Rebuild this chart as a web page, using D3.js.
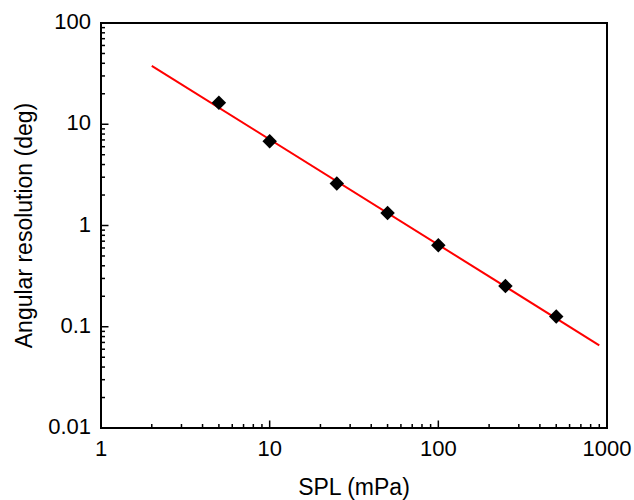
<!DOCTYPE html>
<html>
<head>
<meta charset="utf-8">
<script src="https://cdn.jsdelivr.net/npm/d3@7"></script>
<style>
  html, body { margin: 0; padding: 0; background: #fff; }
  svg { display: block; }
  text { font-family: "Liberation Sans", Arial, sans-serif; fill: #000; }
</style>
</head>
<body>
<svg id="chart" width="634" height="500"></svg>
<script>
// Data
const splValues = [5, 10, 25, 50, 100, 250, 500];
const resolutionValues = [16.3, 6.8, 2.6, 1.33, 0.637, 0.252, 0.126];
const fitX = [2, 900];
const fitY = [37.8, 0.0656];
const xTickLabels = [1, 10, 100, 1000];
const yTickLabels = [0.01, 0.1, 1, 10, 100];
const xTitle = "SPL (mPa)";
const yTitle = "Angular resolution (deg)";

const W = 634, H = 500;
const m = { left: 101, right: 27, top: 23, bottom: 72 };
const svg = d3.select("#chart");

const x = d3.scaleLog().domain([1, 1000]).range([m.left, W - m.right]);
const y = d3.scaleLog().domain([0.01, 100]).range([H - m.bottom, m.top]);

const x0 = m.left, x1 = W - m.right, y0 = H - m.bottom, y1 = m.top;

// minor ticks
function logTicks(lo, hi) {
  const out = [];
  for (let e = Math.log10(lo); e < Math.log10(hi); e++) {
    const b = Math.pow(10, e);
    for (let k = 2; k <= 9; k++) out.push(+(b * k).toPrecision(3));
  }
  return out;
}

const g = svg.append("g");

// X axis ticks (inward)
g.selectAll(".xmin").data(logTicks(1, 1000)).enter().append("line")
  .attr("x1", d => x(d)).attr("x2", d => x(d))
  .attr("y1", y0).attr("y2", y0 - 4)
  .attr("stroke", "#000").attr("stroke-width", 1.5);
g.selectAll(".xmaj").data(xTickLabels).enter().append("line")
  .attr("x1", d => x(d)).attr("x2", d => x(d))
  .attr("y1", y0).attr("y2", y0 - 7.5)
  .attr("stroke", "#000").attr("stroke-width", 1.5);
g.selectAll(".xlab").data(xTickLabels).enter().append("text")
  .attr("x", d => x(d)).attr("y", y0 + 28)
  .attr("text-anchor", "middle").attr("font-size", 22)
  .text(d => String(d));

// Y axis ticks
g.selectAll(".ymin").data(logTicks(0.01, 100)).enter().append("line")
  .attr("x1", x0).attr("x2", x0 + 4)
  .attr("y1", d => y(d)).attr("y2", d => y(d))
  .attr("stroke", "#000").attr("stroke-width", 1.5);
g.selectAll(".ymaj").data(yTickLabels).enter().append("line")
  .attr("x1", x0).attr("x2", x0 + 7.5)
  .attr("y1", d => y(d)).attr("y2", d => y(d))
  .attr("stroke", "#000").attr("stroke-width", 1.5);
g.selectAll(".ylab").data(yTickLabels).enter().append("text")
  .attr("x", x0 - 10).attr("y", d => y(d) + 6)
  .attr("text-anchor", "end").attr("font-size", 22)
  .text(d => String(d));

// Frame
svg.append("rect")
  .attr("x", x0).attr("y", y1)
  .attr("width", x1 - x0).attr("height", y0 - y1)
  .attr("fill", "none").attr("stroke", "#000").attr("stroke-width", 2);

// Fit line
svg.append("path")
  .datum(fitX.map((v, i) => [v, fitY[i]]))
  .attr("d", d3.line().x(d => x(d[0])).y(d => y(d[1])))
  .attr("fill", "none").attr("stroke", "#ff0000").attr("stroke-width", 2);

// Markers
svg.selectAll(".pt").data(splValues.map((v, i) => [v, resolutionValues[i]]))
  .enter().append("path")
  .attr("d", d3.symbol().type(d3.symbolSquare).size(105))
  .attr("transform", d => `translate(${x(d[0])},${y(d[1])}) rotate(45)`)
  .attr("fill", "#000");

// Titles
svg.append("text")
  .attr("x", (x0 + x1) / 2).attr("y", 495)
  .attr("text-anchor", "middle").attr("font-size", 23)
  .text(xTitle);
svg.append("text")
  .attr("transform", `translate(32,${(y0 + y1) / 2}) rotate(-90)`)
  .attr("text-anchor", "middle").attr("font-size", 23)
  .text(yTitle);
</script>
</body>
</html>
